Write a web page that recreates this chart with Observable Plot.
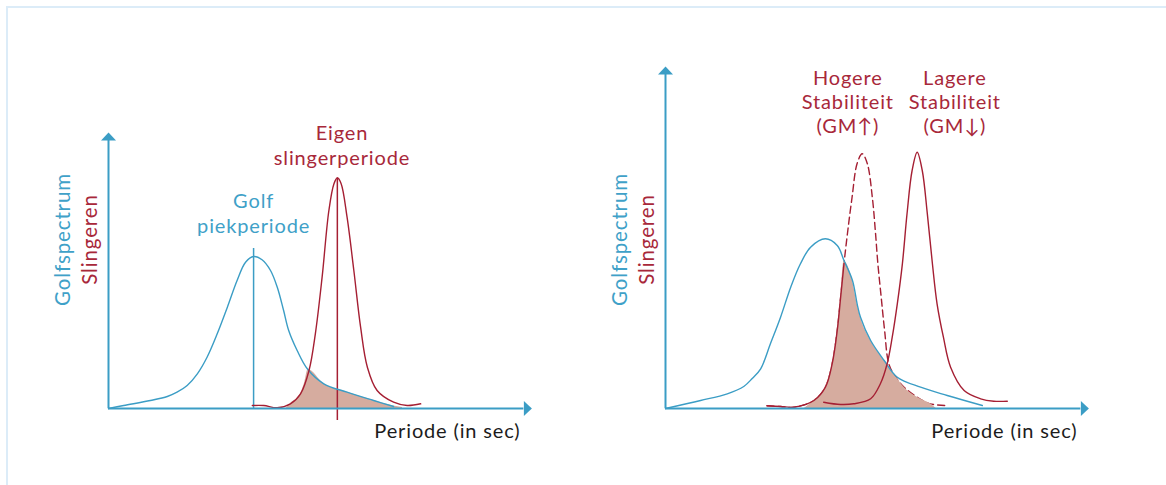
<!DOCTYPE html>
<html><head><meta charset="utf-8">
<script src="https://cdn.jsdelivr.net/npm/d3@7"></script>
<script src="https://cdn.jsdelivr.net/npm/@observablehq/plot@0.6"></script>
<style>
html,body{margin:0;padding:0;background:#fff;}
body{width:1166px;height:485px;overflow:hidden;position:relative;font-family:Lato,sans-serif;}
#frame{position:absolute;left:6px;top:6px;width:1300px;height:600px;border-left:2px solid #dcecf8;border-top:2px solid #dcecf8;}
.panel{position:absolute;top:0;}
#left{left:0}
#right{left:557px}
.panel svg text{letter-spacing:0.85px;}
</style></head><body>
<div id="frame"></div>
<div id="left" class="panel"></div>
<div id="right" class="panel"></div>
<script>
// ---- texts ----
const xLabel = "Periode (in sec)";
const yLabelWave = "Golfspectrum";
const yLabelSway = "Slingeren";

// ---- left panel: wave spectrum (blue) and roll response (red), [period, amplitude] ----
const leftWave = [[0,0],[0.36,0.03],[0.99,0.08],[1.39,0.12],[1.62,0.163],[1.86,0.23],[2.10,0.347],[2.33,0.513],[2.57,0.747],[2.81,1.013],[3.04,1.28],[3.24,1.463],[3.43,1.52],[3.63,1.487],[3.83,1.38],[3.99,1.213],[4.14,0.98],[4.26,0.78],[4.46,0.58],[4.70,0.397],[5.09,0.247],[5.64,0.163],[6.27,0.08],[6.74,0.02]];
const leftSway = [[3.40,0.03],[3.67,0.03],[3.99,0.007],[4.30,0.047],[4.54,0.147],[4.74,0.38],[4.89,0.747],[5.05,1.313],[5.21,1.98],[5.33,2.247],[5.41,2.307],[5.50,2.247],[5.64,1.913],[5.80,1.38],[5.96,0.813],[6.12,0.413],[6.35,0.18],[6.74,0.063],[7.06,0.03],[7.38,0.047]];
const leftOverlap = [[4.20,0],[4.30,0.047],[4.54,0.147],[4.64,0.26],[4.72,0.39],[5.09,0.247],[5.64,0.163],[6.27,0.08],[6.74,0.025],[6.95,0.01]];
const leftMarkers = [
  {name:"wave", x:3.43, y1:0, y2:1.60},
  {name:"sway", x:5.41, y1:-0.12, y2:2.30}
];
const leftNotes = [
  {name:"wave", x:3.43, y:1.76, text:"Golf\npiekperiode"},
  {name:"sway", x:5.52, y:2.44, text:"Eigen\nslingerperiode"}
];

// ---- right panel ----
const rightWave = [[0,0],[0.83,0.08],[1.46,0.147],[1.85,0.22],[2.05,0.30],[2.25,0.397],[2.48,0.647],[2.72,0.913],[2.96,1.213],[3.19,1.447],[3.43,1.613],[3.78,1.697],[4.06,1.63],[4.22,1.48],[4.42,1.28],[4.53,1.047],[4.61,0.913],[4.85,0.68],[5.17,0.48],[5.48,0.313],[6.03,0.213],[6.66,0.13],[7.49,0.03]];
const rightSwayHigh = [[2.40,0.027],[2.72,0.02],[3.03,0.013],[3.51,0.08],[3.78,0.213],[3.94,0.447],[4.06,0.78],[4.14,1.11],[4.22,1.45],[4.31,1.78],[4.41,2.11],[4.53,2.45],[4.65,2.547],[4.77,2.45],[4.89,2.11],[4.96,1.78],[5.02,1.45],[5.10,1.11],[5.18,0.78],[5.28,0.447],[5.44,0.313],[5.64,0.213],[5.95,0.113],[6.26,0.047],[6.62,0.03]];
const rightSwayLow = [[3.74,0.063],[4.14,0.04],[4.45,0.047],[4.85,0.097],[5.08,0.247],[5.24,0.447],[5.36,0.713],[5.48,1.047],[5.60,1.447],[5.71,1.947],[5.83,2.38],[5.95,2.563],[6.07,2.38],[6.19,1.947],[6.31,1.447],[6.42,1.047],[6.57,0.713],[6.74,0.413],[7.06,0.18],[7.45,0.097],[7.76,0.073],[8.08,0.073]];
const rightOverlap = [[3.28,0],[3.51,0.08],[3.78,0.213],[3.94,0.447],[4.06,0.78],[4.14,1.11],[4.22,1.47],[4.42,1.28],[4.53,1.047],[4.61,0.913],[4.85,0.68],[5.17,0.48],[5.44,0.32],[5.64,0.213],[5.95,0.113],[6.26,0.047],[6.40,0]];
const rightNotes = [
  {x:4.31, y:2.76, text:"Hogere\nStabiliteit\n(GM\u2191)"},
  {x:6.84, y:2.76, text:"Lagere\nStabiliteit\n(GM\u2193)"}
];
const highSolidEnd = 4.22; // dashed curve drawn solid below the wave curve

// axis extents (data units)
const leftAxes = {xEnd:9.82, yEnd:2.68};
const rightAxes = {xEnd:9.82, yEnd:3.34};
const labelPos = {xLabelX:9.74, xLabelY:-0.297, waveX:-0.90, swayX:-0.27, yMid:1.69};

// ---- styles ----
const BLUE = "#3b9dc5", BLUE_TXT = "#3fa1c8", RED = "#a51f33", RED_TXT = "#a8283a", FILL = "#d6ac9f", INK = "#1c1c1c";
const FONT = "Lato, 'Open Sans', sans-serif";

const arrowUp = {draw(ctx){ ctx.moveTo(0,-8); ctx.lineTo(7.5,0); ctx.lineTo(-7.5,0); ctx.closePath(); }};
const arrowRight = {draw(ctx){ ctx.moveTo(8,0); ctx.lineTo(0,7.5); ctx.lineTo(0,-7.5); ctx.closePath(); }};

const X = d => d[0], Y = d => d[1];
const common = {
  width: 583, height: 485,
  marginLeft: 108, marginRight: 52, marginTop: 8, marginBottom: 77,
  x: {domain: [0, 10], axis: null},
  y: {domain: [0, 4], axis: null},
  style: {fontFamily: FONT, background: "transparent", overflow: "visible"}
};

function axisMarks(ax) {
  return [
    Plot.ruleY([0], {x1: 0, x2: ax.xEnd, stroke: BLUE, strokeWidth: 2}),
    Plot.ruleX([0], {y1: 0, y2: ax.yEnd, stroke: BLUE, strokeWidth: 2}),
    Plot.dot([[0, ax.yEnd]], {x: X, y: Y, symbol: arrowUp, fill: BLUE, stroke: null}),
    Plot.dot([[ax.xEnd, 0]], {x: X, y: Y, symbol: arrowRight, fill: BLUE, stroke: null}),
    Plot.text([xLabel], {x: labelPos.xLabelX, y: labelPos.xLabelY, text: d => d, textAnchor: "end", lineAnchor: "bottom", fill: INK, fontSize: 20}),
    Plot.text([yLabelWave], {x: labelPos.waveX, y: labelPos.yMid, text: d => d, rotate: -90, textAnchor: "middle", lineAnchor: "bottom", fill: BLUE_TXT, fontSize: 20.5}),
    Plot.text([yLabelSway], {x: labelPos.swayX, y: labelPos.yMid, text: d => d, rotate: -90, textAnchor: "middle", lineAnchor: "bottom", fill: RED_TXT, fontSize: 20.5})
  ];
}

const left = Plot.plot({
  ...common,
  marks: [
    Plot.areaY(leftOverlap, {x: X, y: Y, fill: FILL, curve: "monotone-x"}),
    Plot.ruleX(leftMarkers.filter(d => d.name === "wave"), {x: "x", y1: "y1", y2: "y2", stroke: BLUE, strokeWidth: 1.5}),
    Plot.ruleX(leftMarkers.filter(d => d.name === "sway"), {x: "x", y1: "y1", y2: "y2", stroke: RED, strokeWidth: 1.5}),
    Plot.line(leftWave, {x: X, y: Y, stroke: BLUE, strokeWidth: 1.4, curve: "catmull-rom"}),
    Plot.line(leftSway, {x: X, y: Y, stroke: RED, strokeWidth: 1.4, curve: "catmull-rom"}),
    Plot.text(leftNotes.filter(d => d.name === "wave"), {x: "x", y: "y", text: "text", fill: BLUE_TXT, fontSize: 20, lineHeight: 1.21, lineAnchor: "bottom", textAnchor: "middle"}),
    Plot.text(leftNotes.filter(d => d.name === "sway"), {x: "x", y: "y", text: "text", fill: RED_TXT, fontSize: 20, lineHeight: 1.21, lineAnchor: "bottom", textAnchor: "middle"}),
    ...axisMarks(leftAxes)
  ]
});
document.getElementById("left").append(left);

const right = Plot.plot({
  ...common,
  marks: [
    Plot.line(rightSwayHigh, {x: X, y: Y, stroke: RED, strokeWidth: 1.4, strokeDasharray: "7,4", curve: "catmull-rom"}),
    Plot.areaY(rightOverlap, {x: X, y: Y, fill: FILL, curve: "monotone-x"}),
    Plot.line(rightWave, {x: X, y: Y, stroke: BLUE, strokeWidth: 1.4, curve: "catmull-rom"}),
    Plot.line(rightSwayHigh.filter(d => d[0] <= highSolidEnd), {x: X, y: Y, stroke: RED, strokeWidth: 1.4, curve: "catmull-rom"}),
    Plot.line(rightSwayLow, {x: X, y: Y, stroke: RED, strokeWidth: 1.4, curve: "catmull-rom"}),
    Plot.text(rightNotes, {x: "x", y: "y", text: "text", fill: RED_TXT, fontSize: 20, lineHeight: 1.2, lineAnchor: "bottom", textAnchor: "middle"}),
    ...axisMarks(rightAxes)
  ]
});
document.getElementById("right").append(right);
</script>
</body></html>
